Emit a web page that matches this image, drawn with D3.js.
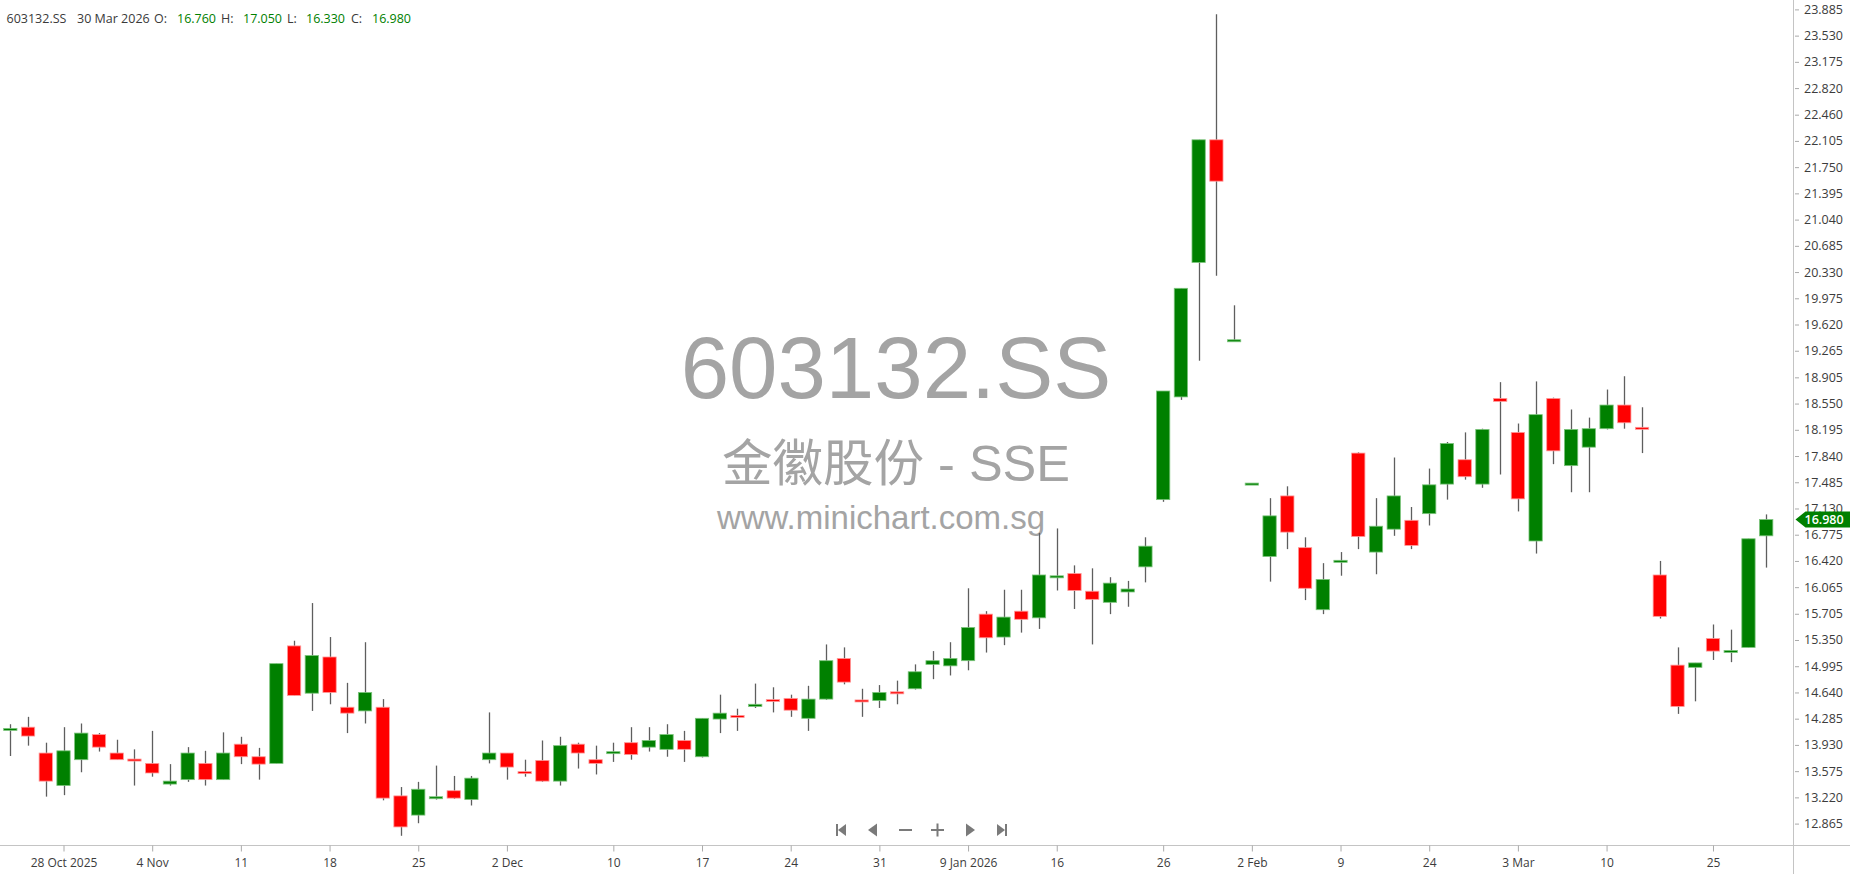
<!DOCTYPE html>
<html>
<head>
<meta charset="utf-8">
<script src="https://cdn.jsdelivr.net/npm/d3@7"></script>
<style>
  body { margin: 0; background: #fff; overflow: hidden; }
  svg { display: block; }
  text { font-family: "Open Sans", "DejaVu Sans", sans-serif; }
</style>
</head>
<body>
<svg id="chart" width="1850" height="874"></svg>
<script>
const symbol = "603132.SS";
const subtitle = "金徽股份 - SSE";
const site = "www.minichart.com.sg";

const dates = [
  "2025-10-23","2025-10-24","2025-10-27","2025-10-28","2025-10-29","2025-10-30","2025-10-31",
  "2025-11-03","2025-11-04","2025-11-05","2025-11-06","2025-11-07","2025-11-10","2025-11-11",
  "2025-11-12","2025-11-13","2025-11-14","2025-11-17","2025-11-18","2025-11-19","2025-11-20",
  "2025-11-21","2025-11-24","2025-11-25","2025-11-26","2025-11-27","2025-11-28","2025-12-01",
  "2025-12-02","2025-12-03","2025-12-04","2025-12-05","2025-12-08","2025-12-09","2025-12-10",
  "2025-12-11","2025-12-12","2025-12-15","2025-12-16","2025-12-17","2025-12-18","2025-12-19",
  "2025-12-22","2025-12-23","2025-12-24","2025-12-25","2025-12-26","2025-12-29","2025-12-30",
  "2025-12-31","2026-01-05","2026-01-06","2026-01-07","2026-01-08","2026-01-09","2026-01-12",
  "2026-01-13","2026-01-14","2026-01-15","2026-01-16","2026-01-19","2026-01-20","2026-01-21",
  "2026-01-22","2026-01-23","2026-01-26","2026-01-27","2026-01-28","2026-01-29","2026-01-30",
  "2026-02-02","2026-02-03","2026-02-04","2026-02-05","2026-02-06","2026-02-09","2026-02-10",
  "2026-02-11","2026-02-12","2026-02-13","2026-02-24","2026-02-25","2026-02-26","2026-02-27",
  "2026-03-02","2026-03-03","2026-03-04","2026-03-05","2026-03-06","2026-03-09","2026-03-10",
  "2026-03-11","2026-03-12","2026-03-20","2026-03-23","2026-03-24","2026-03-25","2026-03-26",
  "2026-03-27","2026-03-30"
];

const open = [
  14.13,14.17,13.82,13.38,13.73,14.07,13.82,13.73,13.68,13.40,13.46,13.68,13.46,13.94,
  13.77,13.68,15.27,14.63,15.12,14.44,14.39,14.44,13.24,12.98,13.21,13.31,13.19,13.73,
  13.82,13.56,13.72,13.44,13.94,13.73,13.82,13.96,13.90,13.87,13.99,13.77,14.28,14.32,
  14.45,14.54,14.56,14.29,14.55,15.10,14.53,14.53,14.64,14.69,15.02,15.00,15.07,15.70,
  15.39,15.74,15.65,16.20,16.25,16.01,15.86,16.00,16.34,17.25,18.64,20.46,22.12,19.40,
  17.46,16.48,17.30,16.60,15.76,16.41,17.88,16.54,16.85,16.97,17.06,17.46,17.79,17.46,
  18.62,18.16,16.69,18.62,17.71,17.96,18.21,18.53,18.22,16.23,15.01,14.98,15.37,15.19,
  15.25,16.76
];
const high = [
  14.21,14.31,13.96,14.17,14.22,14.09,14.00,13.87,14.12,13.67,13.90,13.85,14.10,14.04,
  13.89,15.03,15.34,15.85,15.39,14.77,15.32,14.55,13.36,13.43,13.65,13.51,13.51,14.37,
  13.82,13.73,13.99,14.04,13.96,13.92,13.96,14.17,14.17,14.21,14.12,14.29,14.61,14.42,
  14.76,14.71,14.61,14.73,15.29,15.25,14.69,14.74,14.80,15.02,15.20,15.32,16.05,15.74,
  16.03,16.03,16.80,16.86,16.36,16.32,16.20,16.15,16.74,18.72,20.11,22.12,23.82,19.88,
  17.46,17.27,17.43,16.74,16.39,16.54,17.89,17.27,17.82,17.15,17.67,18.03,18.16,18.21,
  18.84,18.28,18.85,18.63,18.47,18.36,18.74,18.92,18.50,16.42,15.25,15.04,15.56,15.49,
  16.72,17.05
];
const low = [
  13.78,13.92,13.23,13.25,13.56,13.84,13.73,13.38,13.50,13.38,13.43,13.38,13.46,13.67,
  13.46,13.68,14.60,14.39,14.48,14.09,14.22,13.18,12.70,12.87,13.19,13.20,13.11,13.68,
  13.46,13.50,13.43,13.38,13.61,13.53,13.70,13.73,13.84,13.77,13.70,13.76,14.09,14.12,
  14.43,14.37,14.31,14.12,14.54,14.75,14.31,14.43,14.48,14.68,14.82,14.87,14.94,15.18,
  15.28,15.45,15.50,16.02,15.77,15.29,15.70,15.80,16.13,17.22,18.60,19.13,20.28,19.40,
  17.46,16.14,16.58,15.89,15.70,16.22,16.58,16.24,16.76,16.58,16.90,17.25,17.52,17.41,
  17.59,17.09,16.52,17.73,17.35,17.35,18.20,18.21,17.88,15.64,14.35,14.52,15.08,15.05,
  15.25,16.33
];
const close = [
  14.15,14.05,13.44,13.85,14.09,13.90,13.73,13.72,13.55,13.44,13.82,13.46,13.82,13.77,
  13.67,15.03,14.60,15.14,14.64,14.36,14.64,13.21,12.82,13.33,13.22,13.21,13.48,13.82,
  13.63,13.55,13.44,13.92,13.82,13.68,13.83,13.80,13.99,14.07,13.87,14.29,14.36,14.31,
  14.48,14.52,14.40,14.55,15.07,14.78,14.52,14.64,14.63,14.92,15.07,15.10,15.52,15.38,
  15.66,15.63,16.23,16.21,16.02,15.90,16.12,16.04,16.62,18.72,20.11,22.12,21.56,19.40,
  17.46,17.03,16.81,16.05,16.17,16.42,16.75,16.89,17.30,16.63,17.45,18.01,17.56,18.20,
  18.58,17.26,18.40,17.91,18.20,18.21,18.53,18.29,18.21,15.67,14.45,15.04,15.20,15.20,
  16.72,16.98
];

const yTickLabels = [
  "23.885","23.530","23.175","22.820","22.460","22.105","21.750","21.395","21.040","20.685",
  "20.330","19.975","19.620","19.265","18.905","18.550","18.195","17.840","17.485","17.130",
  "16.775","16.420","16.065","15.705","15.350","14.995","14.640","14.285","13.930","13.575",
  "13.220","12.865"
];
const xTickDates = [
  "2025-10-28","2025-11-04","2025-11-11","2025-11-18","2025-11-25","2025-12-02","2025-12-10",
  "2025-12-17","2025-12-24","2025-12-31","2026-01-09","2026-01-16","2026-01-26","2026-02-02",
  "2026-02-09","2026-02-24","2026-03-03","2026-03-10","2026-03-25"
];
const xTickLabels = [
  "28 Oct 2025","4 Nov","11","18","25","2 Dec","10","17","24","31",
  "9 Jan 2026","16","26","2 Feb","9","24","3 Mar","10","25"
];

const svg = d3.select("#chart");
const width = +svg.attr("width");
const height = +svg.attr("height");
const axisX = 1793.5, axisY = 845.5;

const x = d3.scalePoint().domain(dates).range([10.3, 1766.2]);
const y = d3.scaleLinear()
  .domain([+yTickLabels[yTickLabels.length - 1], +yTickLabels[0]])
  .range([823.6, 9.4]);
const bodyW = 13.3;

const GREEN = "#008000", RED = "#ff0000";

// watermark
const wm = svg.append("g").attr("fill", "#a4a4a4").attr("text-anchor", "middle");
wm.append("text").attr("x", 896).attr("y", 398)
  .style("font-family", "'Liberation Sans', Arial, sans-serif")
  .style("font-size", "87px").text(symbol);
wm.append("text").attr("x", 896).attr("y", 481)
  .style("font-family", "'Liberation Sans', 'Noto Sans CJK SC', sans-serif")
  .style("font-size", "50.5px").text(subtitle);
wm.append("text").attr("x", 881).attr("y", 529)
  .style("font-family", "'Liberation Sans', Arial, sans-serif")
  .style("font-size", "33px").text(site);

// candles
const idx = d3.range(dates.length);
const candle = svg.append("g").selectAll("g")
  .data(idx).enter().append("g");

candle.append("line")
  .attr("x1", i => Math.round(x(dates[i])) + 0.5)
  .attr("x2", i => Math.round(x(dates[i])) + 0.5)
  .attr("y1", i => y(high[i]))
  .attr("y2", i => y(low[i]))
  .attr("stroke", "#5e5e5e")
  .attr("stroke-width", 1.3);

candle.append("rect")
  .attr("x", i => x(dates[i]) - bodyW / 2)
  .attr("width", bodyW)
  .attr("y", i => {
    const top = y(Math.max(open[i], close[i]));
    const h = Math.abs(y(open[i]) - y(close[i]));
    return h < 2 ? top - (2 - h) / 2 : top;
  })
  .attr("height", i => Math.max(2, Math.abs(y(open[i]) - y(close[i]))))
  .attr("fill", i => close[i] >= open[i] ? GREEN : RED)
  .attr("stroke", i => close[i] >= open[i] ? "#7cc47c" : "#ff9a9a")
  .attr("stroke-width", 0.8);

// axes lines
svg.append("line").attr("x1", axisX).attr("x2", axisX).attr("y1", 0).attr("y2", height)
  .attr("stroke", "#c4c4c4");
svg.append("line").attr("x1", 0).attr("x2", width).attr("y1", axisY).attr("y2", axisY)
  .attr("stroke", "#c4c4c4");

// right axis
const yAxis = svg.append("g")
  .attr("transform", `translate(${axisX + 1.5},0)`)
  .call(d3.axisRight(y)
    .tickValues(yTickLabels.map(Number))
    .tickFormat((d, i) => yTickLabels[i])
    .tickSize(4).tickPadding(5));
yAxis.select(".domain").remove();
yAxis.selectAll(".tick line").attr("stroke", "#aaa");
yAxis.selectAll(".tick text").attr("fill", "#3c3c3c").style("font-size", "12.5px")
  .style("font-family", "'Open Sans', sans-serif");

// bottom axis
const xAxis = svg.append("g")
  .attr("transform", `translate(0,${axisY})`)
  .call(d3.axisBottom(x)
    .tickValues(xTickDates)
    .tickFormat((d, i) => xTickLabels[i])
    .tickSize(6).tickPadding(7));
xAxis.select(".domain").remove();
xAxis.selectAll(".tick line").attr("stroke", "#aaa");
xAxis.selectAll(".tick text").attr("fill", "#3c3c3c").style("font-size", "12px")
  .style("font-family", "'Open Sans', sans-serif");

// last price marker
const last = close.length - 1;
const ly = y(close[last]);
svg.append("path")
  .attr("d", `M${axisX + 2},${ly} L${axisX + 12},${ly - 8} L${width},${ly - 8} L${width},${ly + 8} L${axisX + 12},${ly + 8} Z`)
  .attr("fill", GREEN);
svg.append("text").attr("x", axisX + 11).attr("y", ly + 4.5)
  .attr("fill", "#fff").style("font-size", "12.5px").style("font-weight", 600)
  .text(close[last].toFixed(3));

// header
const fmtDate = d3.timeFormat("%-d %b %Y");
const lastDate = d3.timeParse("%Y-%m-%d")(dates[last]);
const head = [
  { t: symbol, x: 6.5, c: "#3a3a3a" },
  { t: fmtDate(lastDate), x: 77, c: "#3a3a3a" },
  { t: "O:", x: 154, c: "#3a3a3a" },
  { t: open[last].toFixed(3), x: 177, c: GREEN },
  { t: "H:", x: 221, c: "#3a3a3a" },
  { t: high[last].toFixed(3), x: 243, c: GREEN },
  { t: "L:", x: 287, c: "#3a3a3a" },
  { t: low[last].toFixed(3), x: 306, c: GREEN },
  { t: "C:", x: 351, c: "#3a3a3a" },
  { t: close[last].toFixed(3), x: 372, c: GREEN }
];
svg.append("g").selectAll("text").data(head).enter().append("text")
  .attr("x", d => d.x).attr("y", 22.5)
  .attr("fill", d => d.c).style("font-size", "12.5px")
  .text(d => d.t);

// navigation buttons
const nav = svg.append("g").attr("fill", "#7a7a7a").attr("stroke", "none");
const ny = 830;
nav.append("rect").attr("x", 836).attr("y", ny - 6).attr("width", 2).attr("height", 12);
nav.append("path").attr("d", `M838,${ny} L846,${ny - 6} L846,${ny + 6} Z`);
nav.append("path").attr("d", `M868,${ny} L877,${ny - 6.5} L877,${ny + 6.5} Z`);
nav.append("rect").attr("x", 899).attr("y", ny - 1).attr("width", 13).attr("height", 2);
nav.append("rect").attr("x", 931).attr("y", ny - 1).attr("width", 13).attr("height", 2);
nav.append("rect").attr("x", 936.5).attr("y", ny - 6.5).attr("width", 2).attr("height", 13);
nav.append("path").attr("d", `M966,${ny - 6.5} L975,${ny} L966,${ny + 6.5} Z`);
nav.append("path").attr("d", `M997,${ny - 6} L1005,${ny} L997,${ny + 6} Z`);
nav.append("rect").attr("x", 1005).attr("y", ny - 6).attr("width", 2).attr("height", 12);
</script>
</body>
</html>
